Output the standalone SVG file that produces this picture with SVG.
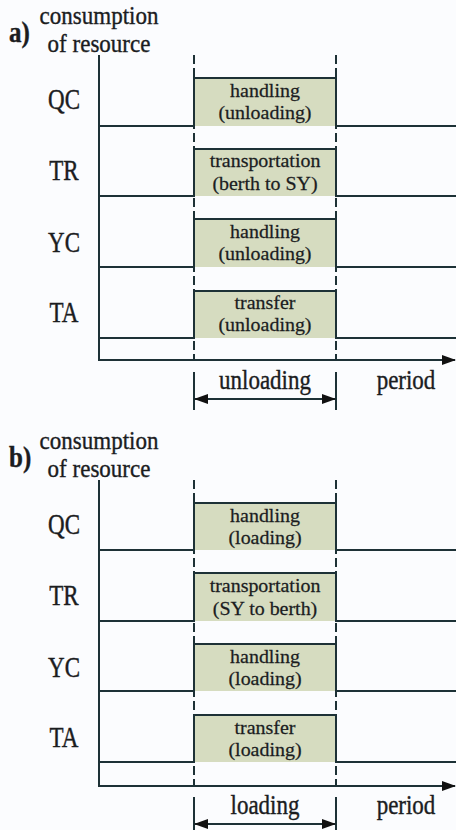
<svg xmlns="http://www.w3.org/2000/svg" width="456" height="830" viewBox="0 0 456 830">
<defs>
<style>
text{font-family:"Liberation Serif","Times New Roman",serif;fill:#1b1d1f;stroke:#1b1d1f;stroke-width:0.35}
.lbl{font-size:23px;text-anchor:middle}
.hd{font-size:23px;text-anchor:middle}
.tag{font-size:25px;font-weight:bold}
.bx{font-size:19px;text-anchor:middle;stroke-width:0.25}
.fill{fill:#d6dcc0;stroke:none}
.step{fill:none;stroke:#1d3136;stroke-width:2}
.ax{fill:none;stroke:#1d3136;stroke-width:2}
.dash{fill:none;stroke:#1d3136;stroke-width:2;stroke-dasharray:9 4}
</style>
<marker id="ah" viewBox="0 0 14 10" refX="13" refY="5" markerWidth="14" markerHeight="10" markerUnits="userSpaceOnUse" orient="auto-start-reverse">
<path d="M0,0 L14,5 L0,10 Z" fill="#111"/>
</marker>
</defs>
<rect width="456" height="830" fill="#fbfcfe"/>

<g id="panel-a">
<g id="a-title">
<text class="tag" transform="translate(9,42) scale(1,1.2)">a)</text>
<text class="hd" transform="translate(99,24) scale(1,1.05)">consumption</text>
<text class="hd" transform="translate(99,52) scale(1,1.05)">of resource</text>
</g>
<g id="a-connectors">
<path class="dash" d="M194,55 V360 M336,55 V360"/>
<path class="ax" d="M99,55 V360 H455" marker-end="url(#ah)"/>
<path class="ax" d="M194,372 V410 M336,372 V410"/>
<path class="ax" d="M195,399 H335" marker-start="url(#ah)" marker-end="url(#ah)"/>
</g>
<g id="a-QC">
<rect class="fill" x="194" y="78" width="142" height="48"/>
<path class="step" d="M99,126 H194 V78 H336 V126 H456"/>
<text class="lbl" transform="translate(64,109) scale(1,1.25)">QC</text>
<text class="bx" transform="translate(265,97) scale(1.05,1)">handling</text>
<text class="bx" transform="translate(265,119) scale(1.05,1)">(unloading)</text>
</g>
<g id="a-TR">
<rect class="fill" x="194" y="149" width="142" height="47"/>
<path class="step" d="M99,196 H194 V149 H336 V196 H456"/>
<text class="lbl" transform="translate(64,180) scale(1,1.25)">TR</text>
<text class="bx" transform="translate(265,167) scale(1.05,1)">transportation</text>
<text class="bx" transform="translate(265,190) scale(1.05,1)">(berth to SY)</text>
</g>
<g id="a-YC">
<rect class="fill" x="194" y="219" width="142" height="48"/>
<path class="step" d="M99,267 H194 V219 H336 V267 H456"/>
<text class="lbl" transform="translate(64,252) scale(1,1.25)">YC</text>
<text class="bx" transform="translate(265,238) scale(1.05,1)">handling</text>
<text class="bx" transform="translate(265,260) scale(1.05,1)">(unloading)</text>
</g>
<g id="a-TA">
<rect class="fill" x="194" y="291" width="142" height="47"/>
<path class="step" d="M99,338 H194 V291 H336 V338 H456"/>
<text class="lbl" transform="translate(64,322) scale(1,1.25)">TA</text>
<text class="bx" transform="translate(265,309) scale(1.05,1)">transfer</text>
<text class="bx" transform="translate(265,331) scale(1.05,1)">(unloading)</text>
</g>
<g id="a-period">
<text class="lbl" transform="translate(265,389) scale(1,1.2)">unloading</text>
<text class="lbl" transform="translate(406,389) scale(1,1.2)">period</text>
</g>
</g>

<g id="panel-b" transform="translate(0,425)">
<g id="b-title">
<text class="tag" transform="translate(9,42) scale(1,1.2)">b)</text>
<text class="hd" transform="translate(99,24) scale(1,1.05)">consumption</text>
<text class="hd" transform="translate(99,52) scale(1,1.05)">of resource</text>
</g>
<g id="b-connectors">
<path class="dash" d="M194,55 V361 M336,55 V361"/>
<path class="ax" d="M99,55 V361 H455" marker-end="url(#ah)"/>
<path class="ax" d="M194,372 V410 M336,372 V410"/>
<path class="ax" d="M195,399 H335" marker-start="url(#ah)" marker-end="url(#ah)"/>
</g>
<g id="b-QC">
<rect class="fill" x="194" y="78" width="142" height="47"/>
<path class="step" d="M99,125 H194 V78 H336 V125 H456"/>
<text class="lbl" transform="translate(64,109) scale(1,1.25)">QC</text>
<text class="bx" transform="translate(265,97) scale(1.05,1)">handling</text>
<text class="bx" transform="translate(265,119) scale(1.05,1)">(loading)</text>
</g>
<g id="b-TR">
<rect class="fill" x="194" y="148" width="142" height="48"/>
<path class="step" d="M99,196 H194 V148 H336 V196 H456"/>
<text class="lbl" transform="translate(64,180) scale(1,1.25)">TR</text>
<text class="bx" transform="translate(265,167) scale(1.05,1)">transportation</text>
<text class="bx" transform="translate(265,190) scale(1.05,1)">(SY to berth)</text>
</g>
<g id="b-YC">
<rect class="fill" x="194" y="219" width="142" height="47"/>
<path class="step" d="M99,266 H194 V219 H336 V266 H456"/>
<text class="lbl" transform="translate(64,252) scale(1,1.25)">YC</text>
<text class="bx" transform="translate(265,238) scale(1.05,1)">handling</text>
<text class="bx" transform="translate(265,260) scale(1.05,1)">(loading)</text>
</g>
<g id="b-TA">
<rect class="fill" x="194" y="290" width="142" height="47"/>
<path class="step" d="M99,337 H194 V290 H336 V337 H456"/>
<text class="lbl" transform="translate(64,322) scale(1,1.25)">TA</text>
<text class="bx" transform="translate(265,309) scale(1.05,1)">transfer</text>
<text class="bx" transform="translate(265,331) scale(1.05,1)">(loading)</text>
</g>
<g id="b-period">
<text class="lbl" transform="translate(265,389) scale(1,1.2)">loading</text>
<text class="lbl" transform="translate(406,389) scale(1,1.2)">period</text>
</g>
</g>
</svg>
